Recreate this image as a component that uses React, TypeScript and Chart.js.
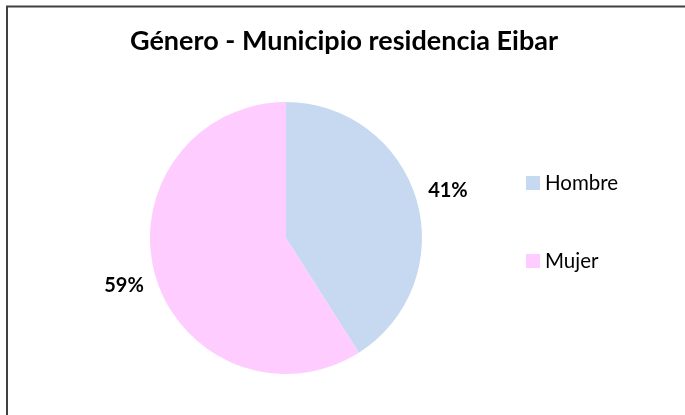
import React, { useEffect, useRef } from "react";
import { Chart, registerables } from "chart.js";

Chart.register(...registerables);

const TITLE = "Género - Municipio residencia Eibar";
const categories = ["Hombre", "Mujer"];
const values = [41, 59];
const labels = ["41%", "59%"];
const colors = ["#C6D9F1", "#FFCCFF"];

const decorPlugin = {
  id: "decor",
  afterDraw(chart: any) {
    const ctx = chart.ctx as CanvasRenderingContext2D;
    ctx.save();
    // border (only top/left visible in the frame)
    ctx.strokeStyle = "#404040";
    ctx.lineWidth = 2;
    ctx.beginPath();
    ctx.moveTo(7, 420);
    ctx.lineTo(7, 6.5);
    ctx.lineTo(690, 6.5);
    ctx.stroke();

    // title
    ctx.fillStyle = "#000000";
    ctx.font = "bold 27px Lato";
    ctx.textAlign = "center";
    ctx.textBaseline = "alphabetic";
    ctx.fillText(TITLE, 344, 50);

    // data labels
    const meta = chart.getDatasetMeta(0);
    ctx.font = "bold 20px Lato";
    ctx.textBaseline = "middle";
    meta.data.forEach((arc: any, i: number) => {
      const mid = (arc.startAngle + arc.endAngle) / 2;
      const d = arc.outerRadius * 1.24;
      const x = arc.x + Math.cos(mid) * d;
      const y = arc.y + Math.sin(mid) * d;
      ctx.fillText(labels[i], x, y);
    });

    // legend
    ctx.font = "20.5px Lato";
    ctx.textAlign = "left";
    ctx.textBaseline = "alphabetic";
    const rows = [190, 268];
    categories.forEach((c, i) => {
      ctx.fillStyle = colors[i];
      ctx.fillRect(526, rows[i] - 14, 14, 14);
      ctx.fillStyle = "#000000";
      ctx.fillText(c, 545, rows[i]);
    });
    ctx.restore();
  },
};

export default function App() {
  const ref = useRef<HTMLCanvasElement>(null);
  useEffect(() => {
    if (!ref.current) return;
    const chart = new Chart(ref.current, {
      type: "pie",
      data: {
        labels: categories,
        datasets: [
          {
            data: values,
            backgroundColor: colors,
            borderWidth: 0,
          },
        ],
      },
      options: {
        animation: false,
        responsive: false,
        layout: { padding: { top: 102, bottom: 41, left: 150, right: 263 } },
        plugins: {
          legend: { display: false },
          title: { display: false },
          tooltip: { enabled: false },
        },
      },
      plugins: [decorPlugin],
    });
    return () => chart.destroy();
  }, []);
  return (
    <div style={{ position: "fixed", left: 0, top: 0, width: 685, height: 415, background: "#fff" }}>
      <canvas ref={ref} width={685} height={415} style={{ display: "block" }} />
    </div>
  );
}
